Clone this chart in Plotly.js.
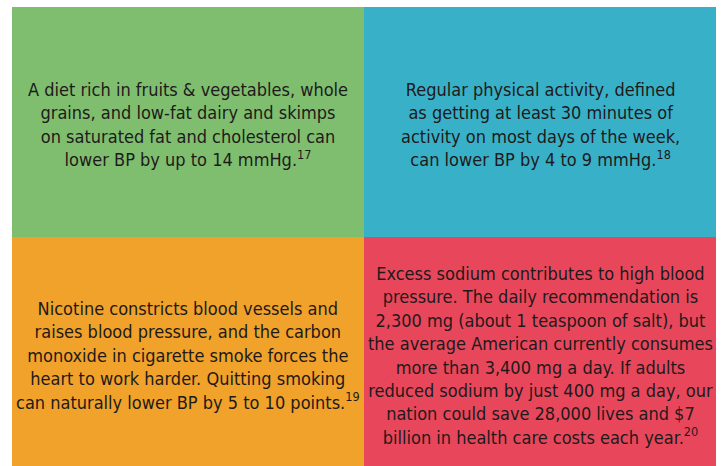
<!DOCTYPE html>
<html><head><meta charset="utf-8">
<script src="https://cdn.plot.ly/plotly-3.0.1.min.js"></script>
<style>html,body{margin:0;padding:0;background:#fff;}#chart{width:721px;height:466px;}</style>
</head><body><div id="chart"></div>
<script>
const columns = [0, 1];
const rows = [0, 1];
const cellIndex = [[0, 1], [2, 3]];
const cellColors = ['#7fbe6e', '#38b1c8', '#f0a22a', '#e8475b'];
const cellTexts = [
  'A diet rich in fruits &amp; vegetables, whole<br>grains, and low-fat dairy and skimps<br>on saturated fat and cholesterol can<br>lower BP by up to 14 mmHg.<sup>17</sup>',
  'Regular physical activity, defined<br>as getting at least 30 minutes of<br>activity on most days of the week,<br>can lower BP by 4 to 9 mmHg.<sup>18</sup>',
  'Nicotine constricts blood vessels and<br>raises blood pressure, and the carbon<br>monoxide in cigarette smoke forces the<br>heart to work harder. Quitting smoking<br>can naturally lower BP by 5 to 10 points.<sup>19</sup>',
  'Excess sodium contributes to high blood<br>pressure. The daily recommendation is<br>2,300 mg (about 1 teaspoon of salt), but<br>the average American currently consumes<br>more than 3,400 mg a day. If adults<br>reduced sodium by just 400 mg a day, our<br>nation could save 28,000 lives and $7<br>billion in health care costs each year.<sup>20</sup>'
];

const fontFamily = '"DejaVu Sans Condensed", "Liberation Sans Narrow", sans-serif';
const colorscale = cellColors.map((c, i) => [[i / 4, c], [(i + 1) / 4, c]]).flat();
const rowShift = [-3, -4];

const annotations = [];
rows.forEach((r, ri) => columns.forEach((c, ci) => {
  annotations.push({
    x: c, y: r, xref: 'x', yref: 'y', showarrow: false,
    yshift: rowShift[ri],
    text: cellTexts[cellIndex[ri][ci]],
    align: 'center',
    font: {family: fontFamily, size: 18, color: '#1e1a1b'}
  });
}));

Plotly.newPlot('chart', [{
  type: 'heatmap', x: columns, y: rows, z: cellIndex,
  zmin: 0, zmax: 4, colorscale: colorscale, showscale: false,
  hoverinfo: 'skip', xgap: 0, ygap: 0
}], {
  width: 721, height: 466,
  margin: {l: 12, r: 0, t: 7, b: 0},
  paper_bgcolor: '#ffffff', plot_bgcolor: '#ffffff',
  xaxis: {visible: false, range: [-0.5, 1.514], fixedrange: true},
  yaxis: {visible: false, range: [1.5, -0.5], fixedrange: true},
  annotations: annotations,
  showlegend: false
}, {displayModeBar: false, staticPlot: true});
</script></body></html>
